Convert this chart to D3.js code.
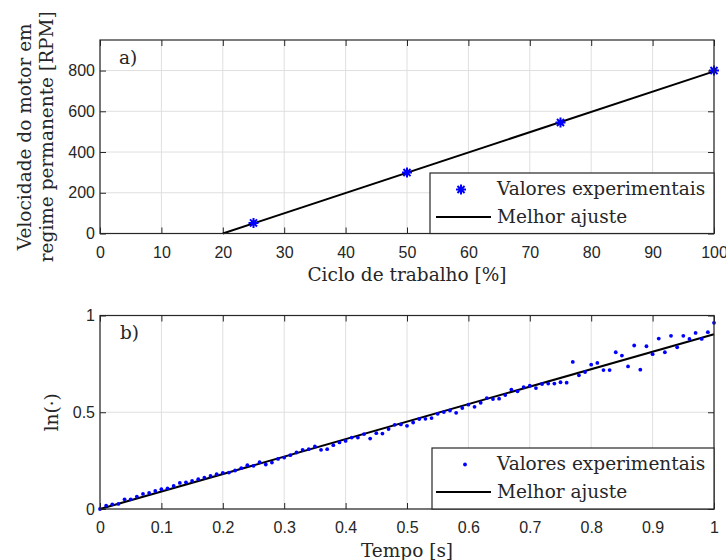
<!DOCTYPE html>
<html>
<head>
<meta charset="utf-8">
<script src="https://cdn.jsdelivr.net/npm/d3@7"></script>
<style>
  body { margin: 0; background: #fff; }
  .tick text { font-family: "Liberation Sans", Arial, sans-serif; font-size: 16px; fill: #262626; }
  .lbl { font-family: "DejaVu Serif", serif; font-size: 18.5px; fill: #262626; }
</style>
</head>
<body>
<svg id="chart" width="726" height="560"></svg>
<script>
// a) steady-state speed vs duty cycle
const dutyCycle = [25, 50, 75, 100];
const speedRpm = [52, 299, 545, 800];
const fitDuty = [20, 100];
const fitRpm = [0, 796];
const xTicksA = [0, 10, 20, 30, 40, 50, 60, 70, 80, 90, 100];
const yTicksA = [0, 200, 400, 600, 800];

// b) ln(.) vs time
const timeS = d3.range(0, 101).map(i => i / 100);
const lnVals = [
  0, 0.017, 0.024, 0.026, 0.050, 0.050, 0.064, 0.078, 0.083, 0.093,
  0.102, 0.107, 0.119, 0.135, 0.138, 0.145, 0.154, 0.162, 0.171, 0.180,
  0.187, 0.188, 0.199, 0.211, 0.226, 0.223, 0.242, 0.230, 0.240, 0.259,
  0.266, 0.278, 0.292, 0.306, 0.309, 0.323, 0.306, 0.309, 0.330, 0.344,
  0.352, 0.369, 0.369, 0.387, 0.364, 0.392, 0.390, 0.413, 0.435, 0.437,
  0.430, 0.447, 0.465, 0.466, 0.470, 0.492, 0.501, 0.509, 0.497, 0.522,
  0.539, 0.528, 0.549, 0.573, 0.568, 0.570, 0.589, 0.617, 0.608, 0.630,
  0.637, 0.625, 0.646, 0.648, 0.648, 0.655, 0.653, 0.760, 0.691, 0.708,
  0.746, 0.755, 0.718, 0.718, 0.810, 0.793, 0.737, 0.845, 0.720, 0.841,
  0.800, 0.881, 0.810, 0.895, 0.836, 0.895, 0.879, 0.910, 0.879, 0.914,
  0.962
];
const fitTime = [0, 1];
const fitLn = [0, 0.903];
const xTicksB = [0, 0.1, 0.2, 0.3, 0.4, 0.5, 0.6, 0.7, 0.8, 0.9, 1];
const yTicksB = [0, 0.5, 1];

const legendLabels = ['Valores experimentais', 'Melhor ajuste'];

const svg = d3.select('#chart');
const blue = '#0000ff';
const serif = '"DejaVu Serif", serif';

// MATLAB style '*' marker: plus + cross
function asterisk(r) {
  const p = d3.path();
  const d = r * Math.SQRT1_2;
  p.moveTo(-r, 0); p.lineTo(r, 0);
  p.moveTo(0, -r); p.lineTo(0, r);
  p.moveTo(-d, -d); p.lineTo(d, d);
  p.moveTo(-d, d); p.lineTo(d, -d);
  return p.toString();
}

function drawAxes(g, x, y, xTicks, yTicks, fmt) {
  const [x0, x1] = x.range();
  const [y0, y1] = y.range();

  // grid
  g.append('g').selectAll('line').data(xTicks).join('line')
    .attr('x1', d => x(d)).attr('x2', d => x(d))
    .attr('y1', y0).attr('y2', y1)
    .attr('stroke', '#dfdfdf').attr('stroke-width', 1);
  g.append('g').selectAll('line').data(yTicks).join('line')
    .attr('x1', x0).attr('x2', x1)
    .attr('y1', d => y(d)).attr('y2', d => y(d))
    .attr('stroke', '#dfdfdf').attr('stroke-width', 1);

  const bottom = g.append('g').attr('transform', `translate(0,${y0})`)
    .call(d3.axisBottom(x).tickValues(xTicks).tickFormat(fmt).tickSizeInner(-6).tickSizeOuter(0).tickPadding(13));
  const left = g.append('g').attr('transform', `translate(${x0},0)`)
    .call(d3.axisLeft(y).tickValues(yTicks).tickFormat(fmt).tickSizeInner(-6).tickSizeOuter(0).tickPadding(5));
  const top = g.append('g').attr('transform', `translate(0,${y1})`)
    .call(d3.axisTop(x).tickValues(xTicks).tickFormat('').tickSizeInner(-6).tickSizeOuter(0));
  const right = g.append('g').attr('transform', `translate(${x1},0)`)
    .call(d3.axisRight(y).tickValues(yTicks).tickFormat('').tickSizeInner(-6).tickSizeOuter(0));
  [bottom, left, top, right].forEach(a => {
    a.select('.domain').remove();
    a.selectAll('.tick line').attr('stroke', '#262626');
  });
}

function drawBox(g, x, y) {
  const [x0, x1] = x.range();
  const [y0, y1] = y.range();
  g.append('rect')
    .attr('x', x0).attr('y', y1)
    .attr('width', x1 - x0).attr('height', y0 - y1)
    .attr('fill', 'none').attr('stroke', '#262626').attr('stroke-width', 1.2);
}

function drawLegend(g, box, markerFn) {
  const leg = g.append('g').attr('class', 'legend');
  leg.append('rect')
    .attr('x', box.x).attr('y', box.y)
    .attr('width', box.w).attr('height', box.h)
    .attr('fill', '#fff').attr('stroke', '#262626').attr('stroke-width', 1.2);
  markerFn(leg.append('g').attr('transform', `translate(${box.mx},${box.y + 16.5})`));
  leg.append('line')
    .attr('x1', 436).attr('x2', 491)
    .attr('y1', box.y + 44).attr('y2', box.y + 44)
    .attr('stroke', '#000').attr('stroke-width', 2);
  leg.selectAll('text').data(legendLabels).join('text')
    .attr('x', 497)
    .attr('y', (d, i) => box.y + (i ? 50 : 22))
    .style('font-family', serif)
    .style('font-size', '18.5px')
    .style('fill', '#262626')
    .text(d => d);
}

// ---------- a) ----------
const xA = d3.scaleLinear().domain([0, 100]).range([100, 714]);
const yA = d3.scaleLinear().domain([0, 950]).range([233.5, 40]);
const gA = svg.append('g');
drawAxes(gA, xA, yA, xTicksA, yTicksA, d3.format('d'));

gA.append('path')
  .attr('fill', 'none').attr('stroke', '#000').attr('stroke-width', 2)
  .attr('d', d3.line().x(d => xA(d[0])).y(d => yA(d[1]))(d3.zip(fitDuty, fitRpm)));

gA.append('g').selectAll('path').data(d3.zip(dutyCycle, speedRpm)).join('path')
  .attr('transform', d => `translate(${xA(d[0])},${yA(d[1])})`)
  .attr('d', asterisk(5))
  .attr('stroke', blue).attr('stroke-width', 2).attr('fill', 'none');

drawBox(gA, xA, yA);
drawLegend(gA, { x: 430, y: 173, w: 284, h: 60.5, mx: 461 }, m =>
  m.append('path').attr('d', asterisk(5)).attr('stroke', blue).attr('stroke-width', 2).attr('fill', 'none'));

gA.append('text').attr('class', 'lbl').attr('x', 119).attr('y', 64).text('a)');
gA.append('text').attr('class', 'lbl').attr('text-anchor', 'middle')
  .attr('x', (xA.range()[0] + xA.range()[1]) / 2).attr('y', 281)
  .text('Ciclo de trabalho [%]');
const yLabA = gA.append('text').attr('class', 'lbl').attr('text-anchor', 'middle')
  .attr('transform', `translate(31,${(233.5 + 40) / 2}) rotate(-90)`);
yLabA.append('tspan').attr('x', 0).attr('dy', 0).text('Velocidade do motor em');
yLabA.append('tspan').attr('x', 0).attr('dy', 22).text('regime permanente [RPM]');

// ---------- b) ----------
const xB = d3.scaleLinear().domain([0, 1]).range([100, 714]);
const yB = d3.scaleLinear().domain([0, 1]).range([509, 315.5]);
const gB = svg.append('g');
drawAxes(gB, xB, yB, xTicksB, yTicksB, d => d3.format('')(d));

gB.append('path')
  .attr('fill', 'none').attr('stroke', '#000').attr('stroke-width', 2)
  .attr('d', d3.line().x(d => xB(d[0])).y(d => yB(d[1]))(d3.zip(fitTime, fitLn)));

gB.append('g').selectAll('circle').data(d3.zip(timeS, lnVals)).join('circle')
  .attr('cx', d => xB(d[0])).attr('cy', d => yB(d[1]))
  .attr('r', 1.9).attr('fill', blue);

drawBox(gB, xB, yB);
drawLegend(gB, { x: 432, y: 448, w: 282, h: 61, mx: 465 }, m =>
  m.append('circle').attr('r', 1.9).attr('fill', blue));

gB.append('text').attr('class', 'lbl').attr('x', 120).attr('y', 339).text('b)');
gB.append('text').attr('class', 'lbl').attr('text-anchor', 'middle')
  .attr('x', (xB.range()[0] + xB.range()[1]) / 2).attr('y', 557)
  .text('Tempo [s]');
gB.append('text').attr('class', 'lbl').attr('text-anchor', 'middle')
  .attr('transform', `translate(58,${(509 + 315.5) / 2}) rotate(-90)`)
  .text('ln(·)');
</script>
</body>
</html>
